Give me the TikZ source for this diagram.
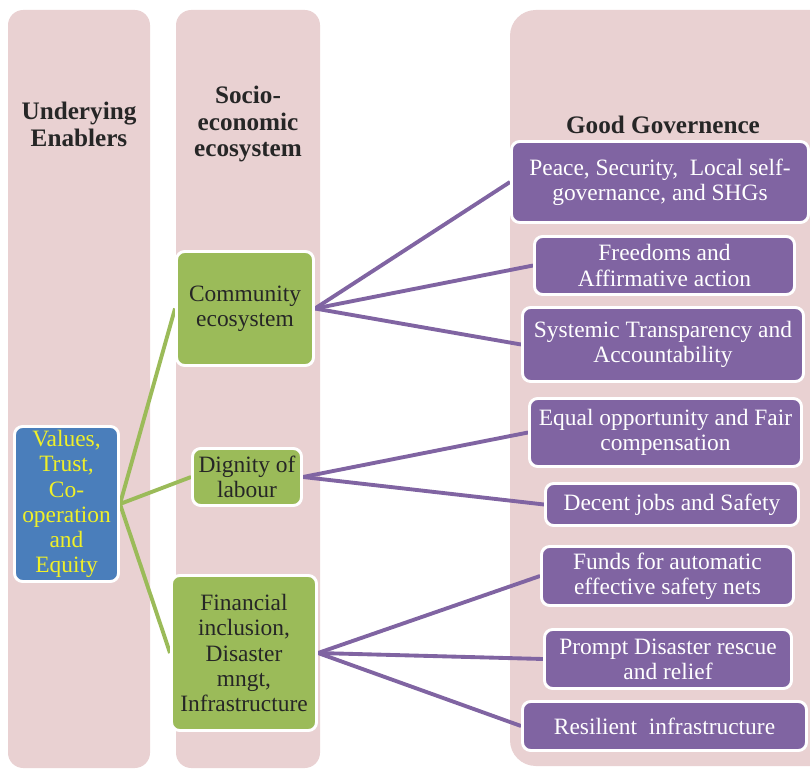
\documentclass[tikz,border=0pt]{standalone}
\usepackage{fontspec}
\setmainfont{Liberation Serif}
\usetikzlibrary{positioning}
\definecolor{pinkbg}{RGB}{233,209,210}
\definecolor{purp}{RGB}{128,100,162}
\definecolor{grn}{RGB}{155,187,89}
\definecolor{blu}{RGB}{74,126,187}
\definecolor{ylw}{RGB}{240,240,40}
\pgfdeclarelayer{bg}
\pgfdeclarelayer{lines}
\pgfsetlayers{bg,lines,main}

\begin{document}
\begin{tikzpicture}[x=0.03cm, y=-0.03cm,
	box/.style={draw=white, line width=2.5pt, rounded corners=7pt, align=center, inner sep=2pt, font=\fontsize{20}{21.5}\selectfont},
	gbox/.style={box, fill=grn, text=black!85},
	pbox/.style={box, fill=purp, text=white},
	head/.style={align=center, font=\fontsize{21.5}{23}\selectfont\bfseries, text=black!85},
	gline/.style={draw=grn, line width=3.3pt},
	pline/.style={draw=purp, line width=3.3pt}]
	\useasboundingbox (0,0) rectangle (810,769);
	\begin{pgfonlayer}{bg}
		\fill[pinkbg, rounded corners=13pt] (8,10) rectangle (150,768);
		\fill[pinkbg, rounded corners=13pt] (176,10) rectangle (320,768);
		\fill[pinkbg, rounded corners=22pt] (510,10) rectangle (840,766);
	\end{pgfonlayer}
	\node[head] (hd1) at (79,124) {Underying\\Enablers};
	\node[head] (hd2) at (248,124) {Socio-\\economic\\ecosystem};
	\node[head] (hd3) at (663,125) {Good Governence};
	\node[box, fill=blu, text=ylw, minimum width=3.12cm, minimum height=4.65cm] (vals) at (66.5,504) {Values,\\Trust,\\Co-\\operation\\and\\Equity};
	\node[gbox, minimum width=4.11cm, minimum height=3.42cm] (comm) at (245,308.5) {Community\\ecosystem};
	\node[gbox, minimum width=3.27cm, minimum height=1.71cm] (dign) at (247,477) {Dignity of\\labour};
	\node[gbox, minimum width=4.35cm, minimum height=4.65cm] (fin) at (244,653) {Financial\\inclusion,\\Disaster\\mngt,\\Infrastructure};
	\node[pbox, minimum width=8.91cm, minimum height=2.43cm] (peace) at (660,182) {Peace, Security,\ \ Local self-\\governance, and SHGs};
	\node[pbox, minimum width=7.8cm, minimum height=1.74cm] (free) at (664.5,265.5) {Freedoms and\\Affirmative action};
	\node[pbox, minimum width=8.43cm, minimum height=2.22cm] (sys) at (663,344.5) {Systemic Transparency and\\Accountability};
	\node[pbox, minimum width=8.16cm, minimum height=2.04cm] (equal) at (665.5,432.5) {Equal opportunity and Fair\\compensation};
	\node[pbox, minimum width=7.59cm, minimum height=1.26cm] (decent) at (672,504.5) {Decent jobs and Safety};
	\node[pbox, minimum width=7.56cm, minimum height=1.77cm] (funds) at (667.5,576) {Funds for automatic\\effective safety nets};
	\node[pbox, minimum width=7.41cm, minimum height=1.77cm] (prompt) at (668,659) {Prompt Disaster rescue\\and relief};
	\node[pbox, minimum width=8.52cm, minimum height=1.47cm] (resil) at (664.5,726) {Resilient\ \ infrastructure};
	\begin{pgfonlayer}{lines}
		\foreach \i in {comm,dign,fin} {\draw[gline] (vals.east) -- (\i.west);}
		\foreach \i in {peace,free,sys} {\draw[pline] (comm.east) -- (\i.west);}
		\foreach \i in {equal,decent} {\draw[pline] (dign.east) -- (\i.west);}
		\foreach \i in {funds,prompt,resil} {\draw[pline] (fin.east) -- (\i.west);}
	\end{pgfonlayer}
\end{tikzpicture}
\end{document}
